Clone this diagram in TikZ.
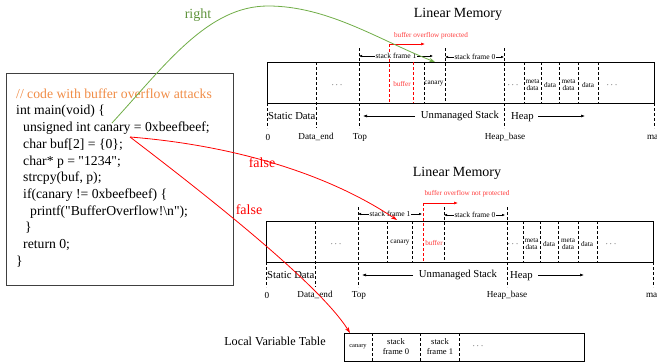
\documentclass[tikz,border=0pt]{standalone}
\usepackage{fontspec}
\setmainfont{Liberation Serif}[Ligatures=TeXOff]
\usetikzlibrary{arrows.meta}
\definecolor{codeorange}{RGB}{240,140,70}
\definecolor{arrowgreen}{RGB}{112,173,71}
\definecolor{lightred}{RGB}{255,60,60}
\begin{document}
\begin{tikzpicture}[x=1pt,y=-1pt,
  dl/.style={dashed,dash pattern=on 3pt off 2pt,line width=0.6pt},
  rdl/.style={dl,red},
  code/.style={anchor=west,inner sep=0pt,font=\fontsize{13.7}{16}\selectfont},
  big/.style={inner sep=0pt,font=\fontsize{14}{16}\selectfont},
  mid/.style={inner sep=0pt,font=\fontsize{10.7}{12}\selectfont},
  axl/.style={inner sep=0pt,font=\fontsize{9.2}{11}\selectfont},
  cell/.style={inner sep=0pt,align=center,font=\fontsize{7.2}{7.8}\selectfont},
  dots/.style={inner sep=0pt,font=\fontsize{9.5}{11}\selectfont},
  sf/.style={fill=white,inner sep=0.6pt,font=\fontsize{7.6}{9}\selectfont},
  dtip/.style={{Latex[length=3pt,width=2.6pt]}-{Latex[length=3pt,width=2.6pt]},line width=0.5pt},
  stip/.style={-{Latex[length=4pt,width=3pt]},line width=0.6pt},
  bar/.style={draw,line width=0.8pt}]
\useasboundingbox (0,0) rectangle (657,364);

% ---------- code box ----------
\draw[line width=0.8pt,draw=black!75] (6,73) rectangle (233,285);
\node[code,text=codeorange] (c0) at (16,94) {// code with buffer overflow attacks};
\node[code] (c1) at (16,111) {int main(void) \{};
\node[code] (c2) at (23,128) {unsigned int canary = 0xbeefbeef;};
\node[code] (c3) at (23,145) {char buf[2] = \{0\};};
\node[code] (c4) at (23,162) {char* p = "1234";};
\node[code] (c5) at (23,178) {strcpy(buf, p);};
\node[code] (c6) at (23,195) {if(canary != 0xbeefbeef) \{};
\node[code] (c7) at (30,212) {printf("BufferOverflow!\textbackslash n");};
\node[code] (c8) at (25,228) {\}};
\node[code] (c9) at (23,245) {return 0;};
\node[code] (c10) at (16,262) {\}};

% ---------- top linear memory ----------
\node[big] (tA) at (458,14) {Linear Memory};
\draw[bar] (267,62) rectangle (654,103);
\foreach \x/\a/\b in {267/103/128,316/62/128,359/48/128,424/62/103,445/48/103,504/48/128,524/62/103,541/62/103,559/62/103,578/62/103,598/62/103,654/103/128}
  \draw[dl] (\x,\a) -- (\x,\b);
\draw[rdl] (389,44) -- (389,103);
\draw[rdl] (413,62) -- (413,103);
\node[cell,text=lightred] (bopA) at (431,36) {buffer overflow protected};
\coordinate (bopAs) at (389,44);
\coordinate (bopAe) at (425,44);
\draw[stip,red] (bopAs) -- (bopAe);
\coordinate (sf1As) at (359,56); \coordinate (sf1Ae) at (433,56);
\draw[dtip] (sf1As) -- (sf1Ae);
\node[sf] (sf1A) at (396,56) {stack frame 1};
\coordinate (sf0As) at (445,57); \coordinate (sf0Ae) at (504,57);
\draw[dtip] (sf0As) -- (sf0Ae);
\node[sf] (sf0A) at (475,57) {stack frame 0};
\node[dots] (dA1) at (337,85) {$\cdots$};
\node[cell,text=lightred] (bufA) at (402,84) {buffer};
\node[cell] (canA) at (434,84) {canary};
\node[dots] (dA2) at (513,85) {$\cdots$};
\node[cell] (mA1) at (532.5,85) {meta\\data};
\node[cell] (daA1) at (550,85) {data};
\node[cell] (mA2) at (568.5,85) {meta\\data};
\node[cell] (daA2) at (588,85) {data};
\node[dots] (dA3) at (612,85) {$\cdots$};
\node[mid,anchor=west] (sdA) at (268,116) {Static Data};
\node[mid] (usA) at (460,116) {Unmanaged Stack};
\coordinate (usAe) at (363,116);
\draw[stip] (415,116) -- (usAe);
\node[mid,anchor=west] (hpA) at (511,117) {Heap};
\coordinate (hpAs) at (538,116); \coordinate (hpAe) at (585,116);
\draw[stip] (hpAs) -- (hpAe);
\node[axl] (z0A) at (268,137) {0};
\node[axl] (deA) at (316,137) {Data\_end};
\node[axl] (tpA) at (360,137) {Top};
\node[axl] (hbA) at (505,137) {Heap\_base};
\node[axl] (mxA) at (655,137) {max};

% ---------- bottom linear memory ----------
\node[big] (tB) at (457,173) {Linear Memory};
\draw[bar] (266,221) rectangle (653,262);
\foreach \x/\a/\b in {266/262/287,315/221/287,358/207/287,387/221/262,412/221/262,444/207/262,507/207/287,523/221/262,540/221/262,558/221/262,578/221/262,597/221/262,653/262/287}
  \draw[dl] (\x,\a) -- (\x,\b);
\draw[rdl] (423,203) -- (423,262);
\node[cell,text=lightred] (bopB) at (467,194) {buffer overflow not protected};
\coordinate (bopBs) at (423,203);
\coordinate (bopBe) at (458,203);
\draw[stip,red] (bopBs) -- (bopBe);
\coordinate (sf1Bs) at (358,214); \coordinate (sf1Be) at (422,214);
\draw[dtip] (sf1Bs) -- (sf1Be);
\node[sf] (sf1B) at (390,214) {stack frame 1};
\coordinate (sf0Bs) at (444,215); \coordinate (sf0Be) at (505,215);
\draw[dtip] (sf0Bs) -- (sf0Be);
\node[sf] (sf0B) at (475,215) {stack frame 0};
\node[dots] (dB1) at (336,244) {$\cdots$};
\node[cell] (canB) at (400,243) {canary};
\node[cell,text=lightred] (bufB) at (434,243) {buffer};
\node[dots] (dB2) at (513,244) {$\cdots$};
\node[cell] (mB1) at (531.5,244) {meta\\data};
\node[cell] (daB1) at (549,244) {data};
\node[cell] (mB2) at (568,244) {meta\\data};
\node[cell] (daB2) at (587,244) {data};
\node[dots] (dB3) at (611,244) {$\cdots$};
\node[mid,anchor=west] (sdB) at (267,275) {Static Data};
\node[mid] (usB) at (458,275) {Unmanaged Stack};
\coordinate (usBe) at (362,275);
\draw[stip] (413,275) -- (usBe);
\node[mid,anchor=west] (hpB) at (510,276) {Heap};
\coordinate (hpBs) at (538,275); \coordinate (hpBe) at (584,275);
\draw[stip] (hpBs) -- (hpBe);
\node[axl] (z0B) at (267,295) {0};
\node[axl] (deB) at (315,295) {Data\_end};
\node[axl] (tpB) at (359,295) {Top};
\node[axl] (hbB) at (507,295) {Heap\_base};
\node[axl] (mxB) at (654,295) {max};

% ---------- local variable table ----------
\node[inner sep=0pt,font=\fontsize{12.2}{14}\selectfont] (lvt) at (275,341) {Local Variable Table};
\draw[line width=0.8pt] (344,333) rectangle (584,361);
\draw[dl] (372,333) -- (372,361);
\draw[dl] (420,333) -- (420,361);
\draw[dl] (459,333) -- (459,361);
\node[inner sep=0pt,font=\fontsize{6.5}{7}\selectfont] (tcan) at (358,347) {canary};
\node[inner sep=0pt,align=center,font=\fontsize{8.6}{10}\selectfont] (tsf0) at (396,347) {stack\\frame 0};
\node[inner sep=0pt,align=center,font=\fontsize{8.6}{10}\selectfont] (tsf1) at (440,347) {stack\\frame 1};
\node[dots] (tdots) at (478,346) {$\cdots$};

% ---------- connectors ----------
\coordinate (gs) at (112,123);
\coordinate (gpk) at (268,6);
\coordinate (ge) at (435,62);
\draw[arrowgreen,line width=0.8pt,-{Stealth[length=6pt,width=4pt]}] (gs) .. controls (166,64) and (208,6) .. (gpk) .. controls (328,6) and (379,40) .. (ge);
\node[big,text=arrowgreen!85!black] (right) at (198,15) {right};
\coordinate (rs) at (130,137);
\coordinate (r1e) at (397,220);
\coordinate (r2e) at (350,333);
\draw[red,line width=0.8pt,-{Stealth[length=6pt,width=4pt]}] (rs) .. controls (230,145) and (325,172) .. (r1e);
\draw[red,line width=0.8pt,-{Stealth[length=6pt,width=4pt]}] (rs) .. controls (210,198) and (320,285) .. (r2e);
\node[big,text=red] (f1) at (262,163) {false};
\node[big,text=red] (f2) at (249,210) {false};
\end{tikzpicture}
\end{document}
